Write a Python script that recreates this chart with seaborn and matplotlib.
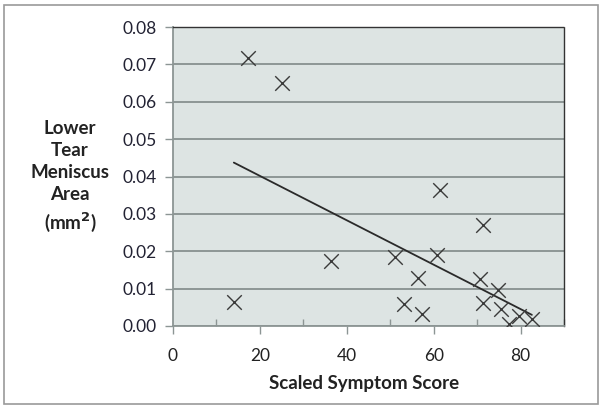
import numpy as np
import pandas as pd
import matplotlib
matplotlib.use("Agg")
import matplotlib.pyplot as plt
import seaborn as sns
from matplotlib.patches import Rectangle
from matplotlib.ticker import MultipleLocator

score = [14.0, 17.3, 25.2, 36.4, 51.0, 53.1, 56.4, 57.4, 60.8, 61.4,
         70.6, 71.4, 71.4, 74.8, 75.6, 77.3, 79.7, 82.6]
area = [0.0065, 0.0717, 0.0649, 0.0175, 0.0185, 0.0059, 0.0129, 0.0031, 0.0189, 0.0365,
        0.0127, 0.0269, 0.0061, 0.0095, 0.0045, 0.0005, 0.0028, 0.0018]
x_ticks = [0, 20, 40, 60, 80]
y_ticks = [0.00, 0.01, 0.02, 0.03, 0.04, 0.05, 0.06, 0.07, 0.08]

df = pd.DataFrame({"score": score, "area": area})

sns.set_theme(style="white")
plt.rcParams['font.family'] = ['Lato', 'DejaVu Sans']

fig = plt.figure(figsize=(6.01, 4.09), dpi=100)
ax = fig.add_axes([173/601, 1-326/409, (564-173)/601, (326-27)/409])
ax.set_facecolor('#dde4e3')

sns.scatterplot(data=df, x="score", y="area", marker="x", s=110, color="#3a3a3a",
                linewidth=1.0, ax=ax, zorder=3)

# linear trend line
coef = np.polyfit(df["score"], df["area"], 1)
xs = np.array([min(score), max(score)])
ax.plot(xs, np.polyval(coef, xs), color="#2a2a2a", lw=1.3, zorder=2)

ax.set_xlim(0, 90)
ax.set_ylim(0, 0.08)
ax.set_xticks(x_ticks)
ax.xaxis.set_minor_locator(MultipleLocator(10))
ax.set_yticks(y_ticks)
ax.set_yticklabels([f"{v:.2f}" for v in y_ticks])
ax.yaxis.grid(True, color="#87908f", lw=1.3)
ax.set_axisbelow(True)

ax.tick_params(axis='x', which='major', direction='out', length=6, color="#8c9594",
               labelsize=12.5, pad=10, labelcolor="#222222", width=1)
ax.tick_params(axis='x', which='minor', direction='in', length=5, color="#8c9594", width=1)
ax.tick_params(axis='y', which='major', direction='out', length=6, color="#8c9594",
               labelsize=12.5, pad=6, labelcolor="#222233", width=1, left=True)
ax.tick_params(axis='x', bottom=True, which='both')

for side in ["left", "bottom"]:
    ax.spines[side].set_color("#8c9594")
    ax.spines[side].set_linewidth(1.3)
for side in ["top", "right"]:
    ax.spines[side].set_color("#333333")
    ax.spines[side].set_linewidth(1.0)
    ax.spines[side].set_linestyle((0, (2, 1)))

ax.set_xlabel("")
ax.set_ylabel("")
fig.text(364/601, 1-383/409, "Scaled Symptom Score", ha="center", va="center",
         fontsize=13.5, fontweight="bold", color="#222222")
fig.text(70/601, 1-177/409, "Lower\nTear\nMeniscus\nArea\n(mm$^\\mathbf{2}$)",
         ha="center", va="center", fontsize=13.5, fontweight="bold", color="#222222",
         linespacing=1.36)

fig.patches.append(Rectangle((4/601, 1-404/409), 594/601, 399/409, transform=fig.transFigure,
                             fill=False, edgecolor="#9a9a9a", lw=1.2))

fig.savefig("out.png", dpi=100)
